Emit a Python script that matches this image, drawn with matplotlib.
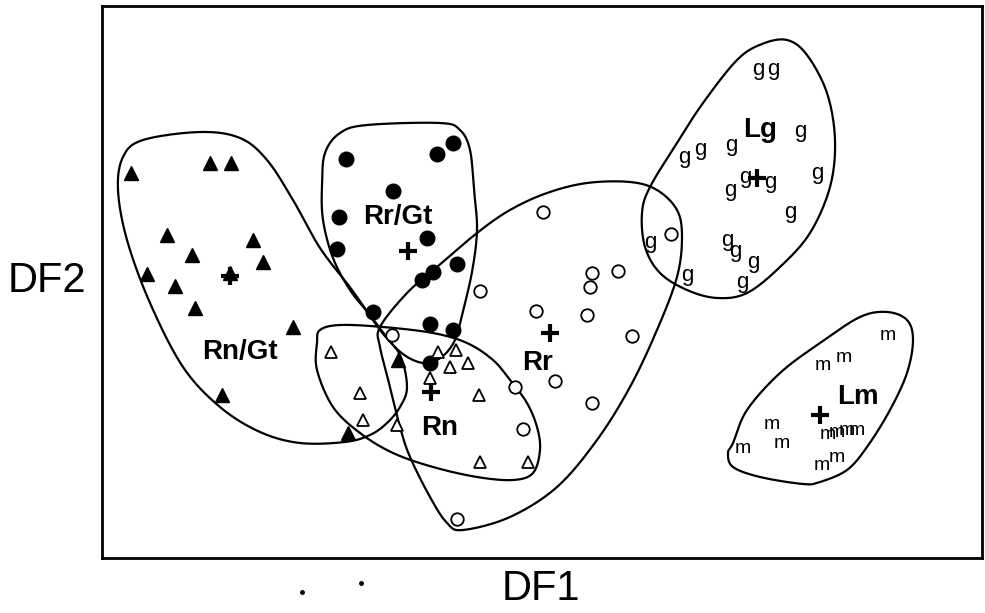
import numpy as np
import matplotlib
matplotlib.use('Agg')
import matplotlib.pyplot as plt

# Values (arbitrary DF units, y grows upwards)
def conv(pts):
    a = np.array(pts, dtype=float)
    return a[:, 0] - 100, 560 - a[:, 1]

# Rn/Gt (filled triangles)
rngt = [(131,173),(210,163),(231,163),(167,235),(253,240),(192,255),(263,262),(147,274),
        (175,286),(230,273),(195,308),(293,327),(222,395),(398,360),(348,433)]
# Rr/Gt (filled circles)
rrgt = [(346,159),(437,154),(453,143),(393,191),(339,217),(427,238),(337,249),(457,264),
        (433,272),(422,280),(373,312),(430,324),(453,330),(430,363)]
# Rn (open triangles)
rn = [(331,352),(360,393),(363,420),(397,425),(438,352),(456,350),(450,367),(468,363),
      (430,378),(479,395),(480,462),(528,462)]
# Rr (open circles)
rr = [(543,212),(480,291),(671,234),(592,273),(618,271),(590,287),(536,311),(587,315),
      (632,336),(392,335),(515,387),(555,381),(592,403),(523,429),(457,519)]
# Lg (letter g)
lg = [(758,69),(773,69),(800,131),(731,145),(700,149),(684,157),(745,177),(770,182),
      (730,190),(817,173),(790,212),(650,242),(727,240),(735,251),(753,262),(687,275),(742,282)]
# Lm (letter m)
lm = [(888,335),(823,365),(844,357),(772,424),(782,443),(743,448),(828,434),(837,432),
      (847,430),(857,430),(822,465),(837,457)]

centroids = [(230,276),(408,251),(431,392),(550,333),(757,178),(820,415)]
group_names = ['Rn/Gt', 'Rr/Gt', 'Rn', 'Rr', 'Lg', 'Lm']
label_pos = [(240,352),(398,217),(440,428),(537,363),(760,130),(858,397)]

# hand drawn group outlines
out_rngt = [(118,190),(123,157),(143,140),(200,132),(240,138),(267,160),(293,200),(320,248),
            (352,290),(380,330),(400,355),(407,387),(400,407),(387,423),(370,435),(345,442),
            (300,443),(260,432),(220,407),(183,367),(150,303),(127,240)]
out_rrgt = [(325,153),(340,133),(367,125),(440,123),(460,130),(470,150),(474,190),(477,230),
            (472,272),(462,315),(455,340),(443,356),(428,363),(413,360),(398,350),(385,335),
            (370,315),(350,290),(333,258),(323,220),(322,185)]
out_rr = [(380,327),(407,293),(437,267),(477,233),(510,210),(547,193),(587,183),(630,182),
          (657,190),(677,210),(682,237),(677,277),(657,330),(630,387),(597,440),(557,487),
          (510,517),(463,530),(447,523),(430,497),(410,457),(400,427),(390,387),(380,347)]
out_rn = [(320,330),(340,325),(383,327),(433,333),(467,343),(493,360),(510,380),(527,403),
          (537,427),(540,450),(533,473),(513,480),(477,477),(433,467),(393,453),(360,433),
          (333,407),(317,370),(317,343)]
out_lg = [(650,187),(677,143),(703,103),(737,60),(762,44),(787,40),(807,55),(827,93),
          (835,140),(830,187),(810,233),(780,267),(747,293),(717,298),(687,290),(660,273),
          (645,247),(642,213)]
out_lm = [(733,443),(747,410),(780,373),(820,343),(860,317),(887,312),(907,320),(913,340),
          (907,373),(890,410),(867,447),(847,470),(820,482),(803,484),(760,477),(733,467),
          (728,453)]

specks = [(302,592),(361,583)]


def closed_curve(pts, n=20):
    P = np.column_stack(conv(pts))
    N = len(P)
    t = np.linspace(0, 1, n, endpoint=False)[:, None]
    segs = []
    for i in range(N):
        p0, p1, p2, p3 = P[i-1], P[i], P[(i+1) % N], P[(i+2) % N]
        seg = 0.5*((2*p1) + (-p0+p2)*t + (2*p0-5*p1+4*p2-p3)*t**2 + (-p0+3*p1-3*p2+p3)*t**3)
        segs.append(seg)
    c = np.vstack(segs + [P[:1]])
    return c[:, 0], c[:, 1]


fig = plt.figure(figsize=(9.85, 6.13), dpi=100)
ax = fig.add_axes([102/985, 1-558/613, 880/985, 552/613])
ax.set_xlim(2, 882)
ax.set_ylim(2, 554)
ax.set_xticks([])
ax.set_yticks([])
for s in ax.spines.values():
    s.set_linewidth(2.0)

for o in [out_rngt, out_rrgt, out_rr, out_rn, out_lg, out_lm]:
    x, y = closed_curve(o)
    ax.plot(x, y, color='black', lw=1.6, solid_capstyle='round')

x, y = conv(rngt)
ax.plot(x, y, ls='none', marker='^', ms=10, color='black')
x, y = conv(rrgt)
ax.plot(x, y, ls='none', marker='o', ms=10.5, color='black')
x, y = conv(rn)
ax.plot(x, y, ls='none', marker='^', ms=9, mfc='white', mec='black', mew=1.3)
x, y = conv(rr)
ax.plot(x, y, ls='none', marker='o', ms=9, mfc='white', mec='black', mew=1.3)

x, y = conv(lg)
for xi, yi in zip(x, y):
    ax.text(xi, yi, 'g', fontsize=16, ha='center', va='center', family='Liberation Sans')
x, y = conv(lm)
for xi, yi in zip(x, y):
    ax.text(xi, yi, 'm', fontsize=14, ha='center', va='center', family='Liberation Sans')

x, y = conv(centroids)
ax.plot(x, y, ls='none', marker='+', ms=13, mew=3, color='black')

x, y = conv(label_pos)
for name, xi, yi in zip(group_names, x, y):
    ax.text(xi, yi, name, fontsize=20, fontweight='bold', ha='center', va='center',
            family='Liberation Sans')

x, y = conv(specks)
ax.plot(x, y, ls='none', marker='o', ms=2.5, color='black', clip_on=False)

fig.text(47/985, 1-281/613, 'DF2', fontsize=30, ha='center', va='center',
         family='Liberation Sans')
fig.text(541/985, 1-589/613, 'DF1', fontsize=30, ha='center', va='center',
         family='Liberation Sans')

fig.savefig('out.png', dpi=100)
